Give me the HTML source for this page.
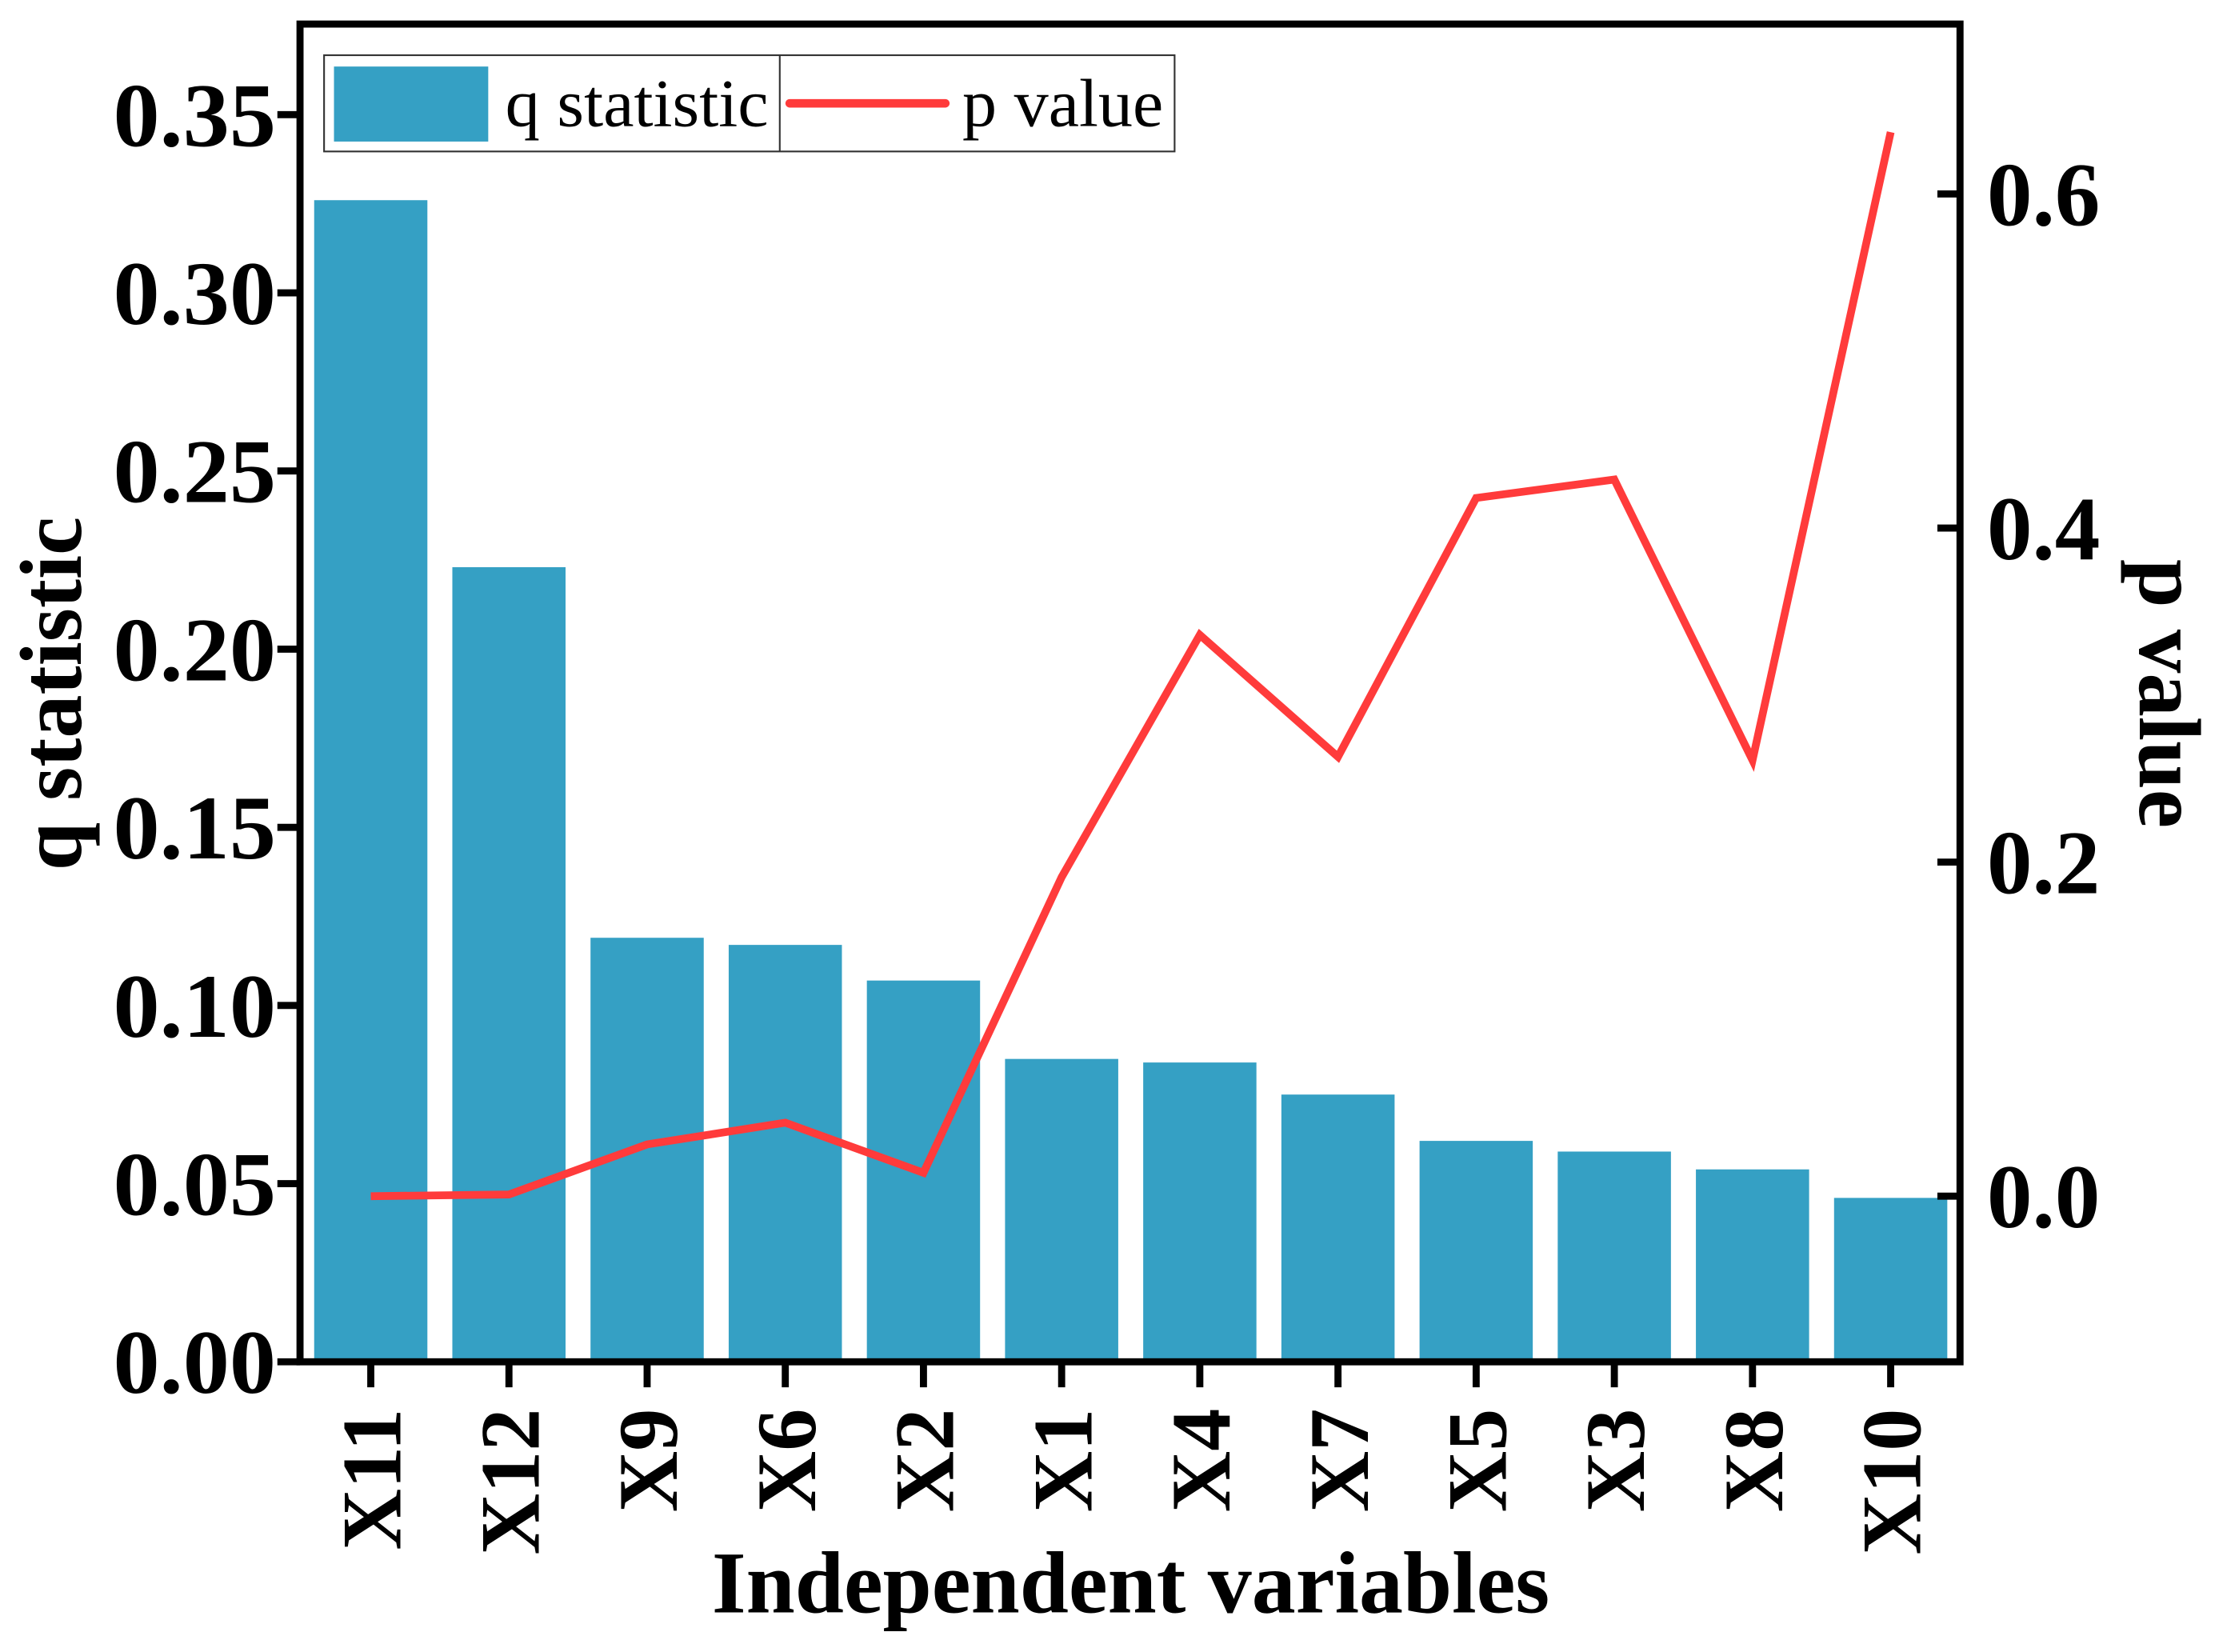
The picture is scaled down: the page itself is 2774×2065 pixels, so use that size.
<!DOCTYPE html>
<html><head><meta charset="utf-8"><style>
html,body{margin:0;padding:0;background:#fff}
svg{display:block}
text{font-family:"Liberation Serif",serif}
</style></head><body>
<svg id="chart" width="2774" height="2065" viewBox="0 0 1568 1167" preserveAspectRatio="none" xmlns="http://www.w3.org/2000/svg">
<g id="bars"></g>
<g id="line"></g>
<g id="axes"></g>
<g>
  <rect x="229" y="39" width="601" height="68" fill="#fff" stroke="#333" stroke-width="1.2"/>
  <line x1="551" y1="39" x2="551" y2="107" stroke="#333" stroke-width="1.2"/>
  <rect x="236" y="47" width="109" height="53" fill="#35a0c4"/>
  <text x="357" y="89" font-size="48" textLength="186" lengthAdjust="spacingAndGlyphs">q statistic</text>
  <line x1="558" y1="73" x2="668" y2="73" stroke="#ff3b3b" stroke-width="6" stroke-linecap="round"/>
  <text x="680" y="89" font-size="48" textLength="142" lengthAdjust="spacingAndGlyphs">p value</text>
</g>
<text transform="translate(57,490) rotate(-90)" text-anchor="middle" font-size="62" font-weight="bold" textLength="250" lengthAdjust="spacingAndGlyphs">q statistic</text>
<text transform="translate(1512,490) rotate(90)" text-anchor="middle" font-size="62" font-weight="bold" textLength="190" lengthAdjust="spacingAndGlyphs">p value</text>
<text x="799" y="1139" text-anchor="middle" font-size="62" font-weight="bold" textLength="592" lengthAdjust="spacingAndGlyphs">Independent variables</text>
</svg>
<script>
const categories = ["X11","X12","X9","X6","X2","X1","X4","X7","X5","X3","X8","X10"];
const qValues = [0.326,0.223,0.119,0.117,0.107,0.085,0.084,0.075,0.062,0.059,0.054,0.046];
const pValues = [0.0,0.001,0.031,0.044,0.014,0.191,0.336,0.263,0.418,0.429,0.261,0.637];
const leftTicks = [0,0.05,0.10,0.15,0.20,0.25,0.30,0.35];
const leftTickLabels = ["0.00","0.05","0.10","0.15","0.20","0.25","0.30","0.35"];
const rightTicks = [0,0.2,0.4,0.6];
const rightTickLabels = ["0.0","0.2","0.4","0.6"];

const NS="http://www.w3.org/2000/svg";
const L=212,R=1385,T=17,B=962;
const yL=v=>B-v*(881/0.35);
const yR=v=>845-v*(236/0.2);
const step=(1336-262)/11;
const xC=i=>262+i*step;
const bw=80;
function mk(tag,attrs,parent){const e=document.createElementNS(NS,tag);for(const k in attrs)e.setAttribute(k,attrs[k]);parent.appendChild(e);return e;}
const gb=document.getElementById('bars'),gl=document.getElementById('line'),ga=document.getElementById('axes');
qValues.forEach((v,i)=>{
  const r=mk('rect',{x:xC(i)-bw/2,y:yL(v),width:bw,height:B-yL(v),fill:'#35a0c4'},gb);
  
  
});
const pts=pValues.map((v,i)=>xC(i)+','+yR(v)).join(' ');
const pl=mk('polyline',{points:pts,fill:'none',stroke:'#ff3b3b','stroke-width':5.5,'stroke-linejoin':'miter'},gl);


const fr=mk('rect',{x:L,y:T,width:R-L,height:B-T,fill:'none',stroke:'#000','stroke-width':5},ga);


leftTicks.forEach((v,i)=>{
  const y=yL(v);
  const t=mk('line',{x1:L-16,y1:y,x2:L,y2:y,stroke:'#000','stroke-width':5},ga);
  
  
  const tx=mk('text',{x:195,y:y+22,'text-anchor':'end','font-size':64,'font-weight':'bold',textLength:115,lengthAdjust:'spacingAndGlyphs'},ga);
  tx.textContent=leftTickLabels[i];
  
  
});
rightTicks.forEach((v,i)=>{
  const y=yR(v);
  const t=mk('line',{x1:R-16,y1:y,x2:R,y2:y,stroke:'#000','stroke-width':5},ga);
  
  
  const tx=mk('text',{x:1404,y:y+22,'font-size':64,'font-weight':'bold'},ga);
  tx.textContent=rightTickLabels[i];
  
  
});
categories.forEach((c,i)=>{
  const x=xC(i);
  const t=mk('line',{x1:x,y1:B,x2:x,y2:B+18,stroke:'#000','stroke-width':5},ga);
  
  
  const tx=mk('text',{transform:`translate(${x+21},995) rotate(-90)`,'text-anchor':'end','font-size':60,'font-weight':'bold'},ga);
  tx.textContent=c;
  
  
});
</script>
</body></html>
